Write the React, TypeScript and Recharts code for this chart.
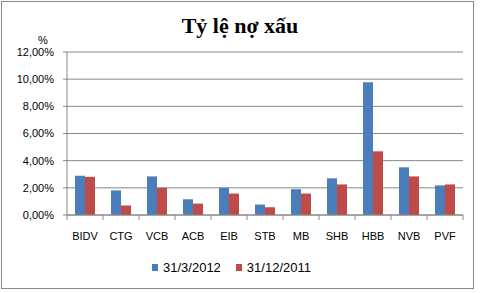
import React from "react";
import { BarChart, Bar, XAxis, YAxis, CartesianGrid, Legend } from "recharts";

const categories = ["BIDV", "CTG", "VCB", "ACB", "EIB", "STB", "MB", "SHB", "HBB", "NVB", "PVF"];
const series2012 = [2.89, 1.81, 2.84, 1.16, 2.0, 0.77, 1.9, 2.7, 9.78, 3.51, 2.18];
const series2011 = [2.81, 0.7, 2.0, 0.84, 1.58, 0.57, 1.58, 2.25, 4.69, 2.84, 2.25];
const yTicks = [0, 2, 4, 6, 8, 10, 12];
const seriesNames = ["31/3/2012", "31/12/2011"];

const BLUE = "#4a7ebb";
const RED = "#be4b48";
const GRID = "#878787";

const data = categories.map((c, i) => ({ name: c, a: series2012[i], b: series2011[i] }));

const fmt = (v: number) => v.toFixed(2).replace(".", ",") + "%";

const PLOT_LEFT = 67;
const PLOT_RIGHT = 463;
const HALF_BAND = (PLOT_RIGHT - PLOT_LEFT) / categories.length / 2;

const XTick = (props: any) => {
  const { x, y, payload, index } = props;
  const last = index === categories.length - 1;
  return (
    <g>
      <line x1={x - HALF_BAND} x2={x - HALF_BAND} y1={y} y2={y + 5} stroke={GRID} />
      {last && <line x1={x + HALF_BAND} x2={x + HALF_BAND} y1={y} y2={y + 5} stroke={GRID} />}
      <text x={x} y={y + 25} textAnchor="middle" fontSize={11} fill="#000" fontFamily="Liberation Sans, Arial, sans-serif">
        {payload.value}
      </text>
    </g>
  );
};

const LegendContent = () => (
  <div style={{ height: 20, display: "flex", justifyContent: "center", alignItems: "center", fontFamily: "Liberation Sans, Arial, sans-serif", fontSize: 13, color: "#000" }}>
    {seriesNames.map((n, i) => (
      <div key={n} style={{ display: "flex", alignItems: "center", marginLeft: i === 0 ? 0 : 15 }}>
        <div style={{ width: 6, height: 7, background: i === 0 ? BLUE : RED, marginRight: 5 }} />
        <span>{n}</span>
      </div>
    ))}
  </div>
);

export default function App() {
  return (
    <div style={{ position: "absolute", left: 0, top: 0, width: 480, height: 293, background: "#fff" }}>
      <div style={{ position: "absolute", left: 1, top: 1, width: 473, height: 288, boxSizing: "border-box", border: "1px solid #8a8a8a" }} />
      <div style={{ position: "absolute", left: 0, top: 15, width: 480, textAlign: "center", fontFamily: "Liberation Serif, serif", fontWeight: "bold", fontSize: 22, lineHeight: "22px", color: "#000" }}>
        Tỷ lệ nợ xấu
      </div>
      <div style={{ position: "absolute", left: 33, top: 35, width: 20, textAlign: "center", fontFamily: "Liberation Sans, Arial, sans-serif", fontSize: 11, lineHeight: "11px", color: "#000" }}>
        %
      </div>
      <div style={{ position: "absolute", left: 0, top: 0 }}>
        <BarChart width={480} height={293} data={data} margin={{ top: 52, right: 17, bottom: 16, left: 0 }} barGap={0} barSize={10}>
          <CartesianGrid vertical={false} stroke={GRID} />
          <XAxis dataKey="name" axisLine={{ stroke: GRID }} tickLine={false} tickSize={0} tickMargin={0} tick={<XTick />} height={42} interval={0} />
          <YAxis
            domain={[0, 12]}
            ticks={yTicks}
            tickFormatter={fmt}
            width={67}
            axisLine={{ stroke: GRID }}
            tickLine={{ stroke: GRID }}
            tickSize={4}
            tickMargin={9}
            tick={{ fontSize: 11, fill: "#000", fontFamily: "Liberation Sans, Arial, sans-serif" }}
          />
          <Legend verticalAlign="bottom" content={<LegendContent />} />
          <Bar dataKey="a" name={seriesNames[0]} fill={BLUE} isAnimationActive={false} />
          <Bar dataKey="b" name={seriesNames[1]} fill={RED} isAnimationActive={false} />
        </BarChart>
      </div>
    </div>
  );
}
